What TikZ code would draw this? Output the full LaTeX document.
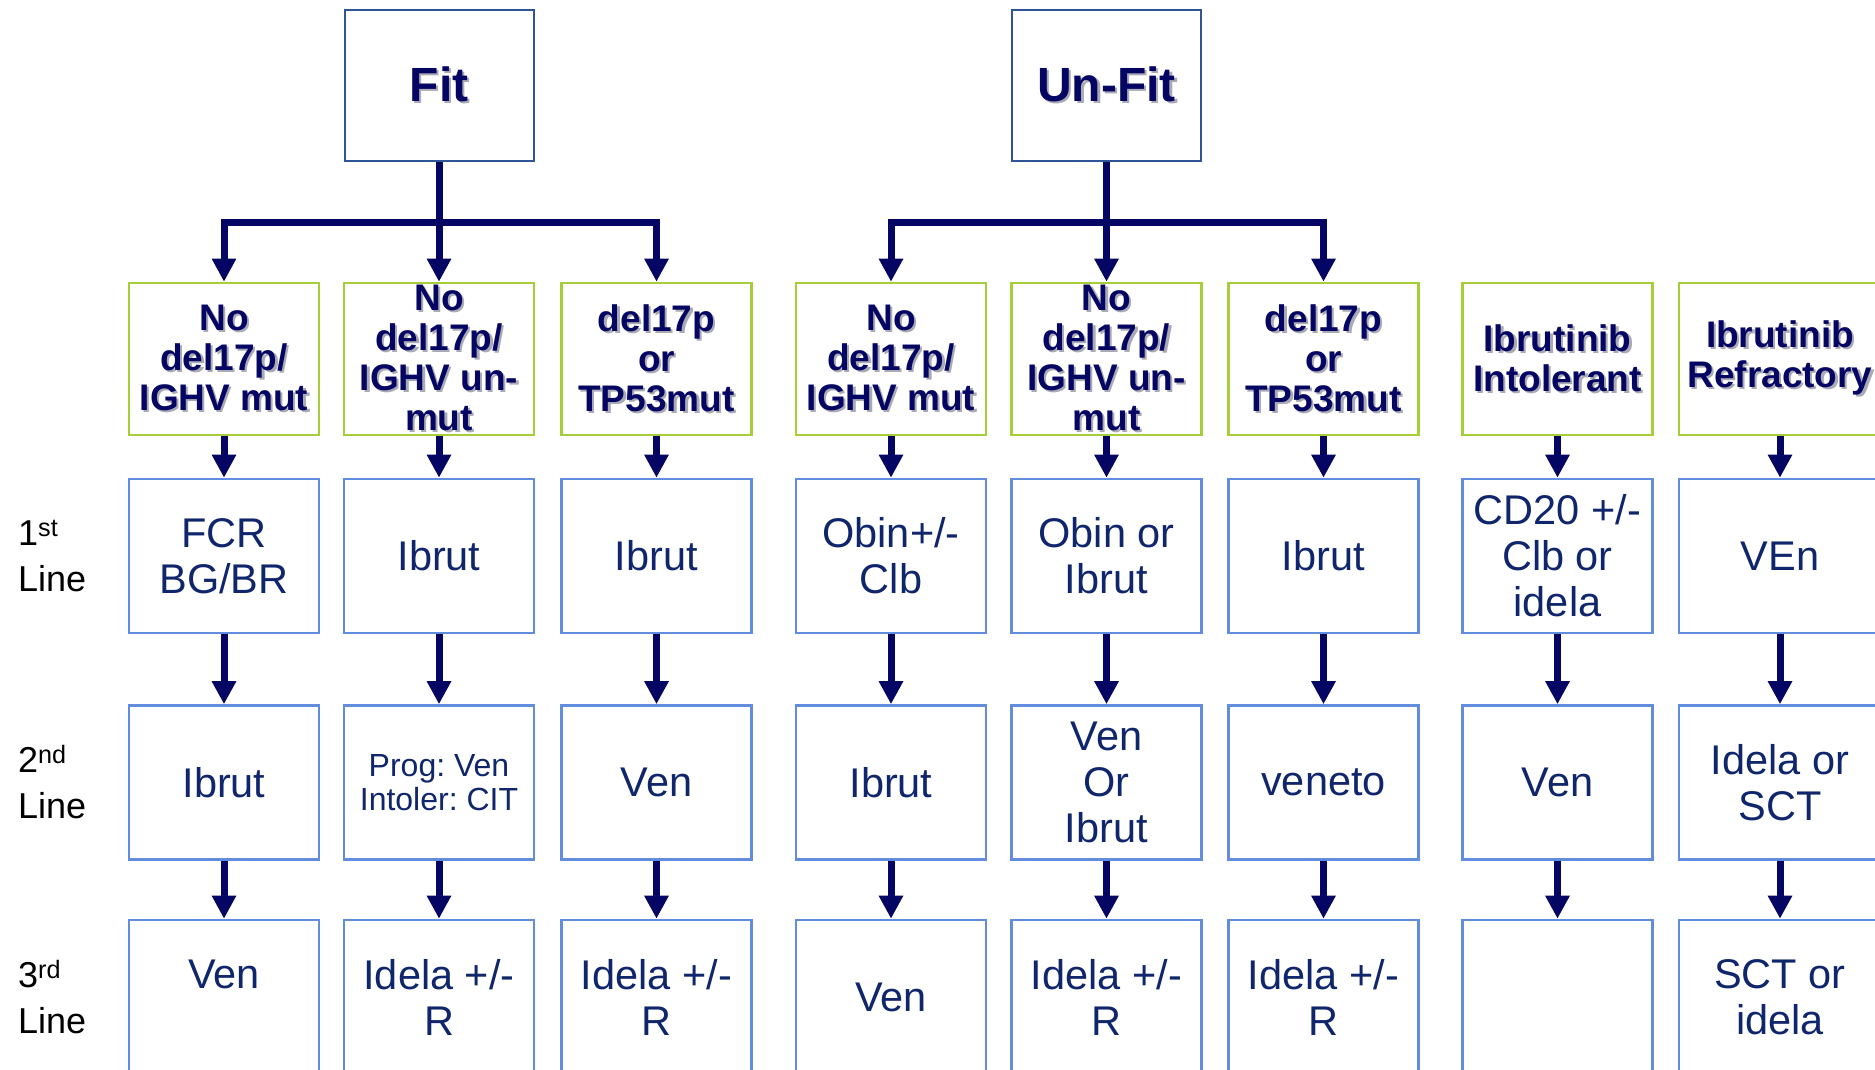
\documentclass[tikz,border=0pt]{standalone}
\usepackage{fontspec}
\setmainfont{Liberation Sans}
\usetikzlibrary{arrows.meta}
\frenchspacing
\definecolor{navy}{RGB}{5,5,100}
\definecolor{topc}{RGB}{47,85,151}
\definecolor{greenc}{RGB}{166,206,57}
\definecolor{bluec}{RGB}{98,140,222}
\definecolor{txtc}{RGB}{16,38,108}
\definecolor{shadowc}{RGB}{170,170,182}
\newcommand\sh[1]{\makebox[0pt][l]{\hspace*{2.2pt}\raisebox{-2.2pt}{\textcolor{shadowc}{#1}}}#1}
\tikzset{
  topbox/.style={draw=topc, line width=2pt, minimum width=189pt, minimum height=151pt, inner sep=0pt,
    font=\fontsize{48}{56}\selectfont\bfseries, text=navy},
  grbox/.style={draw=greenc, line width=2.6pt, minimum width=190pt, minimum height=152pt, inner sep=0pt,
    align=center, font=\fontsize{37}{40}\selectfont\bfseries, text=navy},
  blbox/.style={draw=bluec, line width=2.6pt, minimum width=190pt, minimum height=154pt, inner sep=0pt,
    align=center, font=\fontsize{41.5}{46}\selectfont, text=txtc},
  smalltxt/.style={font=\fontsize{32}{34.5}\selectfont},
  rowlbl/.style={anchor=west, inner sep=0pt, align=left, font=\fontsize{36}{46}\selectfont, text=black},
  flow/.style={draw=navy, line width=7pt, -{Triangle[width=23pt,length=23pt]}}
}
\begin{document}
\begin{tikzpicture}[x=1pt,y=-1pt]
\useasboundingbox (0,0) rectangle (1875,1069);
\clip (0,0) rectangle (1875,1069);

% top boxes
\node[topbox] (fit) at (439,85.5) {\sh{Fit}};
\node[topbox] (unfit) at (1106.5,85.5) {\sh{Un-Fit}};

% green boxes
\node[grbox] (g1) at (224,359) {\sh{No}\\\sh{del17p/}\\\sh{IGHV mut}};
\node[grbox] (g2) at (439,359) {\sh{No}\\\sh{del17p/}\\\sh{IGHV un-}\\\sh{mut}};
\node[grbox] (g3) at (656.5,359) {\sh{del17p}\\\sh{or}\\\sh{TP53mut}};
\node[grbox] (g4) at (891,359) {\sh{No}\\\sh{del17p/}\\\sh{IGHV mut}};
\node[grbox] (g5) at (1106.5,359) {\sh{No}\\\sh{del17p/}\\\sh{IGHV un-}\\\sh{mut}};
\node[grbox] (g6) at (1323.5,359) {\sh{del17p}\\\sh{or}\\\sh{TP53mut}};
\node[grbox] (g7) at (1557.5,359) {\sh{Ibrutinib}\\\sh{Intolerant}};
\node[grbox, minimum width=202pt] (g8) at (1780,359) {\sh{Ibrutinib}\\\sh{Refractory}};

% row 1
\node[blbox] (a1) at (224,556) {FCR\\BG/BR};
\node[blbox] (a2) at (439,556) {Ibrut};
\node[blbox] (a3) at (656.5,556) {Ibrut};
\node[blbox] (a4) at (891,556) {Obin+/-\\Clb};
\node[blbox] (a5) at (1106.5,556) {Obin or\\Ibrut};
\node[blbox] (a6) at (1323.5,556) {Ibrut};
\node[blbox] (a7) at (1557.5,556) {CD20 +/-\\Clb or\\idela};
\node[blbox, minimum width=202pt] (a8) at (1780,556) {VEn};

% row 2
\node[blbox] (b1) at (224,782.5) {Ibrut};
\node[blbox, smalltxt] (b2) at (439,782.5) {Prog: Ven\\Intoler: CIT};
\node[blbox] (b3) at (656.5,782.5) {Ven};
\node[blbox] (b4) at (891,782.5) {Ibrut};
\node[blbox] (b5) at (1106.5,782.5) {Ven\\Or\\Ibrut};
\node[blbox] (b6) at (1323.5,782.5) {veneto};
\node[blbox] (b7) at (1557.5,782.5) {Ven};
\node[blbox, minimum width=202pt] (b8) at (1780,782.5) {Idela or\\SCT};

% row 3
\node[blbox] (r1) at (224,997) {Ven\\\phantom{R}};
\node[blbox] (r2) at (439,997) {Idela +/-\\R};
\node[blbox] (r3) at (656.5,997) {Idela +/-\\R};
\node[blbox] (r4) at (891,997) {Ven};
\node[blbox] (r5) at (1106.5,997) {Idela +/-\\R};
\node[blbox] (r6) at (1323.5,997) {Idela +/-\\R};
\node[blbox] (r7) at (1557.5,997) {};
\node[blbox, minimum width=202pt] (r8) at (1780,997) {SCT or\\idela};

% row labels
\node[rowlbl] (l1) at (18,556) {1\textsuperscript{st}\\Line};
\node[rowlbl] (l2) at (18,782.5) {2\textsuperscript{nd}\\Line};
\node[rowlbl] (l3) at (18,997) {3\textsuperscript{rd}\\Line};

% branching connectors
\coordinate (fbar) at (439,222);
\coordinate (ubar) at (1106.5,222);
\draw[flow] (fit.south) -- (g2.north);
\draw[flow] (fbar) -| (g1.north);
\draw[flow] (fbar) -| (g3.north);
\draw[flow] (unfit.south) -- (g5.north);
\draw[flow] (ubar) -| (g4.north);
\draw[flow] (ubar) -| (g6.north);

% column connectors
\foreach \c in {1,...,8}{
  \draw[flow] (g\c.south) -- (a\c.north);
  \draw[flow] (a\c.south) -- (b\c.north);
  \draw[flow] (b\c.south) -- (r\c.north);
}
\end{tikzpicture}
\end{document}
